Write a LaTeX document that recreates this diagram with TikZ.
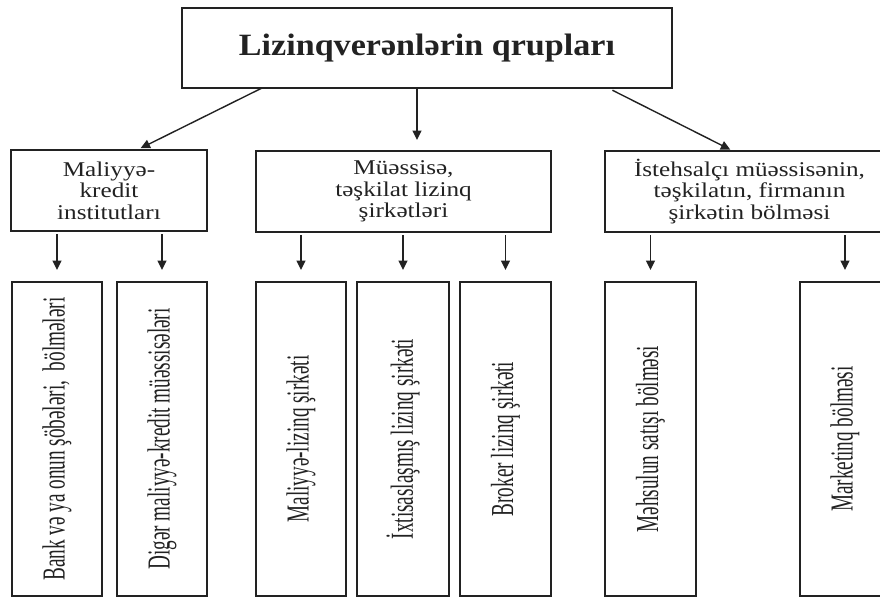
\documentclass[tikz,border=0pt]{standalone}
\usepackage{fontspec}
\setmainfont{Liberation Serif}
\newfontfamily\titlefont[FakeStretch=1.1]{Liberation Serif}
\newfontfamily\midfont[FakeStretch=1.2]{Liberation Serif}
\newfontfamily\narrowfont[FakeStretch=0.6]{Liberation Serif}
\usetikzlibrary{arrows.meta,calc}
\definecolor{ink}{HTML}{222222}
\tikzset{
  box/.style={draw=ink, line width=1.4pt, inner sep=0pt, outer sep=0pt, align=center, text=ink},
  topbox/.style={box, minimum width=490pt, minimum height=80pt, font=\titlefont\bfseries\fontsize{31}{36}\selectfont},
  midbox/.style={box, minimum height=81pt, font=\midfont\fontsize{21}{21.5}\selectfont},
  lowbox/.style={box, minimum height=314pt, font=\narrowfont\fontsize{32}{34}\selectfont},
  arr/.style={draw=ink, line width=1.4pt, -{Triangle[length=9.5pt,width=9pt]}}
}
\newcommand{\vtext}[1]{\rotatebox{90}{#1}}
\begin{document}
\begin{tikzpicture}[x=1pt,y=-1pt]
\useasboundingbox (0,0) rectangle (880,597);
\clip (0,0) rectangle (880,597);
\fill[white] (0,0) rectangle (880,597);
% top
\node[topbox] (top) at (427,48) {Lizinqverənlərin qrupları};
% middle level
\node[midbox, minimum width=196pt] (m1) at (109,190.5) {Maliyyə-\\kredit\\institutları};
\node[midbox, minimum width=295pt] (m2) at (403.5,191.5) {Müəssisə,\\təşkilat lizinq\\şirkətləri};
\node[midbox, minimum width=289pt] (m3) at (749.5,191.5) {İstehsalçı müəssisənin,\\təşkilatın, firmanın\\şirkətin bölməsi};
% bottom level
\node[lowbox, minimum width=90pt] (b1) at (57,439) {\vtext{Bank və ya onun şöbələri,\ \ bölmələri}};
\node[lowbox, minimum width=90pt] (b2) at (162,439) {\vtext{Digər maliyyə-kredit müəssisələri}};
\node[lowbox, minimum width=90pt] (b3) at (301,439) {\vtext{Maliyyə-lizinq şirkəti}};
\node[lowbox, minimum width=92pt] (b4) at (403,439) {\vtext{İxtisaslaşmış lizinq şirkəti}};
\node[lowbox, minimum width=91pt] (b5) at (505.5,439) {\vtext{Broker lizinq şirkəti}};
\node[lowbox, minimum width=91pt] (b6) at (650.5,439) {\vtext{Məhsulun satışı bölməsi}};
\node[lowbox, minimum width=90pt] (b7) at (845,439) {\vtext{Marketinq bölməsi}};
% arrows from top
\draw[arr, shorten >=4pt] ([xshift=80pt]top.south west) -- ([xshift=28pt]m1.north);
\draw[arr, shorten >=11pt] ([xshift=-10pt]top.south) -- ([xshift=13.5pt]m2.north);
\draw[arr, shorten <=5pt, shorten >=3pt] ([xshift=-64pt]top.south east) -- ([xshift=-16.5pt]m3.north);
% arrows to bottom
\foreach \m/\b in {m1/b1, m1/b2, m2/b3, m2/b4, m2/b5, m3/b6, m3/b7}{
  \draw[arr, shorten <=3pt, shorten >=12pt] (\m.south -| \b.north) -- (\b.north);
}
\end{tikzpicture}
\end{document}
